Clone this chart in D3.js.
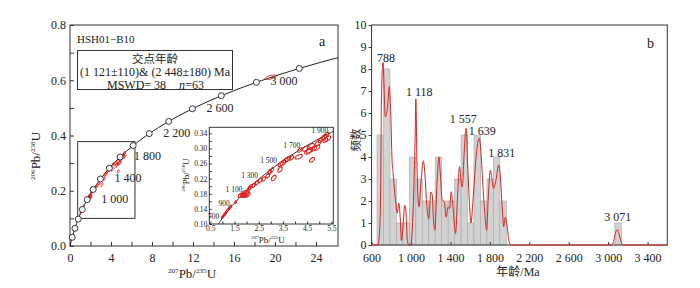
<!DOCTYPE html>
<html>
<head>
<meta charset="utf-8">
<script src="https://cdn.jsdelivr.net/npm/d3@7"></script>
<style>
  body { margin: 0; background: #fff; }
  svg text { font-family: "Liberation Serif", "Times New Roman", "Noto Sans CJK SC", serif; fill: #222; }
  .cjk { font-family: "Liberation Serif", "Noto Sans CJK SC", serif; }
</style>
</head>
<body>
<svg id="chart" width="700" height="288"></svg>
<script>
'use strict';

// concordia, every 100 Ma from 0 to 3400 Ma
const concAge = d3.range(0, 3401, 100);
const concX = [0, 0.1035, 0.2177, 0.3437, 0.4828, 0.6363, 0.8056, 0.9925, 1.1987, 1.4263, 1.6774,
  1.9545, 2.2603, 2.5978, 2.9701, 3.3810, 3.8344, 4.3348, 4.8869, 5.4962, 6.1686, 6.9105, 7.7292,
  8.6326, 9.6296, 10.7297, 11.9437, 13.2833, 14.7616, 16.3929, 18.1930, 20.1795, 22.3715, 24.7903, 27.4595];
const concY = [0, 0.0156, 0.0315, 0.0476, 0.0640, 0.0807, 0.0975, 0.1147, 0.1321, 0.1498, 0.1678,
  0.1861, 0.2046, 0.2234, 0.2426, 0.2620, 0.2817, 0.3018, 0.3221, 0.3428, 0.3637, 0.3851, 0.4068,
  0.4288, 0.4511, 0.4737, 0.4968, 0.5202, 0.5440, 0.5681, 0.5926, 0.6175, 0.6428, 0.6684, 0.6945];
const mainLabelAges = [1000, 1400, 1800, 2200, 2600, 3000];
const insetLabelAges = [700, 900, 1100, 1300, 1500, 1700, 1900];

// analysis spots: 207Pb/235U, 206Pb/238U, half-width x, half-height y
const spots = [
  [1.00, 0.118, 0.04, 0.0035], [1.05, 0.122, 0.04, 0.0035], [1.10, 0.126, 0.05, 0.004],
  [1.15, 0.131, 0.04, 0.004], [1.22, 0.137, 0.05, 0.004], [1.28, 0.142, 0.04, 0.004],
  [1.34, 0.146, 0.04, 0.004], [1.55, 0.158, 0.04, 0.004],
  [1.75, 0.176, 0.10, 0.006], [1.85, 0.178, 0.12, 0.007], [1.92, 0.176, 0.10, 0.006],
  [1.98, 0.179, 0.12, 0.007], [2.05, 0.177, 0.10, 0.006], [1.88, 0.182, 0.08, 0.006],
  [2.02, 0.186, 0.08, 0.006], [2.10, 0.193, 0.08, 0.006], [2.15, 0.198, 0.07, 0.006],
  [2.30, 0.203, 0.08, 0.006], [2.42, 0.209, 0.09, 0.006], [2.55, 0.215, 0.09, 0.006],
  [2.70, 0.219, 0.08, 0.006], [2.88, 0.228, 0.08, 0.006], [2.95, 0.238, 0.07, 0.007],
  [3.05, 0.243, 0.06, 0.007], [3.12, 0.222, 0.10, 0.007], [3.38, 0.244, 0.09, 0.007],
  [3.40, 0.258, 0.10, 0.006], [3.50, 0.262, 0.12, 0.007], [3.60, 0.268, 0.10, 0.006],
  [3.70, 0.272, 0.12, 0.007], [3.85, 0.275, 0.10, 0.006], [4.15, 0.278, 0.15, 0.006],
  [4.20, 0.296, 0.10, 0.006], [4.45, 0.300, 0.14, 0.007], [4.55, 0.292, 0.15, 0.007],
  [4.65, 0.305, 0.15, 0.008], [4.60, 0.295, 0.12, 0.007], [4.78, 0.300, 0.12, 0.007],
  [4.70, 0.270, 0.10, 0.006], [4.95, 0.314, 0.12, 0.007], [4.90, 0.302, 0.12, 0.007],
  [5.05, 0.322, 0.10, 0.007], [5.20, 0.330, 0.12, 0.007], [5.30, 0.336, 0.10, 0.007],
  [5.35, 0.326, 0.12, 0.007], [5.25, 0.322, 0.10, 0.006],
  [19.6, 0.611, 0.55, 0.008]
];

// histogram (Ma)
const binStart = [655, 721, 786, 852, 917, 983, 1049, 1114, 1180, 1245, 1311, 1377, 1442, 1508,
  1573, 1639, 1705, 1770, 1836, 1901, 3068];
const binCount = [5, 8, 3, 1, 1, 4, 3, 2, 2, 4, 2, 2, 3, 5, 1, 5, 2, 3, 4, 2, 1];
const binWidth = 65.6;

// probability density curve (scaled to counts)
const kdeAge = [600, 665, 682, 693, 699, 716, 739, 760, 780, 794, 808, 818, 841, 861, 876, 892, 902,
  916, 937, 947, 963, 977, 998, 1014, 1031, 1042, 1049, 1059, 1069, 1082, 1100, 1126, 1140, 1161,
  1181, 1201, 1215, 1228, 1242, 1262, 1283, 1299, 1316, 1337, 1357, 1374, 1391, 1408, 1425, 1452,
  1472, 1492, 1506, 1520, 1537, 1553, 1560, 1574, 1591, 1608, 1629, 1652, 1676, 1693, 1710, 1730,
  1751, 1767, 1784, 1805, 1822, 1838, 1862, 1889, 1906, 1927, 1940, 1957, 1974, 1995, 2015,
  3040, 3060, 3078, 3093, 3108, 3128, 3152, 3600];
const kdeValue = [0, 0, 0.7, 2.95, 6.4, 8.3, 5.83, 6.2, 7.2, 6.0, 3.8, 3.27, 2.1, 1.45, 1.9, 1.1, 0.2,
  0.7, 1.8, 1.6, 0.2, 0, 0, 0.83, 2.95, 4.9, 6.64, 4.0, 2.2, 1.74, 2.8, 3.83, 3.26, 1.74,
  1.2, 2.4, 2.27, 1.14, 0.68, 2.65, 4.0, 3.1, 2.05, 1.97, 1.26, 1.71, 1.66, 2.42, 1.74, 0.53,
  2.2, 3.56, 2.95, 2.65, 4.0, 5.15, 5.3, 3.7, 2.05, 1.0, 2.05, 3.56, 4.62, 4.85, 4.17, 2.65,
  1.29, 0.68, 2.2, 3.4, 2.95, 2.58, 2.95, 3.64, 3.1, 1.6, 0.83, 1.26, 0.9, 0.15, 0,
  0, 0.25, 0.6, 0.7, 0.55, 0.2, 0, 0];

const peakLabels = ['788', '1 118', '1 557', '1 639', '1 831', '3 071'];
const peakLabelAge = [746, 1084, 1530, 1723, 1920, 3097];
const peakLabelCount = [8.34, 6.77, 5.55, 5.0, 3.98, 1.07];

const svg = d3.select('#chart');
const ink = '#333';
const red = '#d8231c';

function fmtThousands(d) {
  return d >= 1000 ? Math.floor(d / 1000) + ' ' + String(d % 1000).padStart(3, '0') : String(d);
}

function isotopeText(text, parts, size) {
  parts.forEach(function (p) {
    text.append('tspan').attr('font-size', size * 0.55).attr('dy', -size * 0.4).text(p[0]);
    text.append('tspan').attr('font-size', size).attr('dy', size * 0.4).text(p[1]);
  });
}

function styleAxis(g) {
  g.select('.domain').remove();
  g.selectAll('.tick line').attr('stroke', ink);
  g.selectAll('.tick text').attr('fill', '#222');
}

function ellipsePath(d, xs, ys) {
  const rho = 0.55;
  const pts = d3.range(0, 41).map(function (i) {
    const t = i / 40 * 2 * Math.PI;
    return [xs(d[0] + d[2] * Math.cos(t)),
      ys(d[1] + d[3] * (rho * Math.cos(t) + Math.sqrt(1 - rho * rho) * Math.sin(t)))];
  });
  return d3.line().curve(d3.curveLinearClosed)(pts);
}

const conc = concAge.map(function (a, i) { return {age: a, x: concX[i], y: concY[i]}; });

// ---------- panel a ----------
const xA = d3.scaleLinear().domain([0, 26.15]).range([70, 338]);
const yA = d3.scaleLinear().domain([0, 0.8]).range([246, 25]);

svg.append('clipPath').attr('id', 'clipA')
  .append('rect').attr('x', 70).attr('y', 25).attr('width', 268).attr('height', 221);

svg.append('g').attr('transform', 'translate(0,246)')
  .call(d3.axisBottom(xA).tickValues(d3.range(0, 26, 2)).tickSizeInner(-4).tickSizeOuter(0)
    .tickPadding(7).tickFormat(function (d) { return d % 4 === 0 ? d : ''; }))
  .call(styleAxis)
  .selectAll('text').attr('font-size', 12);

svg.append('g').attr('transform', 'translate(70,0)')
  .call(d3.axisLeft(yA).tickValues(d3.range(0, 0.81, 0.1)).tickSizeInner(-4).tickSizeOuter(0)
    .tickPadding(4).tickFormat(function (d) { return Math.round(d * 10) % 2 === 0 ? d3.format('.1f')(d) : ''; }))
  .call(styleAxis)
  .selectAll('text').attr('font-size', 12);

svg.append('rect').attr('x', 70).attr('y', 25).attr('width', 268).attr('height', 221)
  .attr('fill', 'none').attr('stroke', ink);

const xTitleA = svg.append('text').attr('x', 192).attr('y', 278).attr('text-anchor', 'middle');
isotopeText(xTitleA, [['207', 'Pb/'], ['235', 'U']], 13);
const yTitleA = svg.append('text').attr('transform', 'translate(40,156) rotate(-90)').attr('text-anchor', 'middle');
isotopeText(yTitleA, [['206', 'Pb/'], ['238', 'U']], 13);

// zoom box
svg.append('rect')
  .attr('x', xA(0.75)).attr('y', yA(0.378))
  .attr('width', xA(6.34) - xA(0.75)).attr('height', yA(0.10) - yA(0.378))
  .attr('fill', 'none').attr('stroke', ink);

// concordia line
svg.append('path').datum(conc)
  .attr('clip-path', 'url(#clipA)')
  .attr('d', d3.line().x(function (d) { return xA(d.x); }).y(function (d) { return yA(d.y); }).curve(d3.curveMonotoneX))
  .attr('fill', 'none').attr('stroke', '#222').attr('stroke-width', 1);

// spots in main panel
svg.append('g').selectAll('path').data(spots).join('path')
  .attr('d', function (d) { return ellipsePath(d, xA, yA); })
  .attr('fill', 'none').attr('stroke', red).attr('stroke-width', 0.9);

// age markers
const marks = conc.filter(function (d) { return d.age > 0 && d.age <= 3200 && d.age % 200 === 0; });
svg.append('g').selectAll('circle').data(marks).join('circle')
  .attr('cx', function (d) { return xA(d.x); }).attr('cy', function (d) { return yA(d.y); })
  .attr('r', 3).attr('fill', '#fff').attr('stroke', '#222').attr('stroke-width', 0.9);

svg.append('g').selectAll('text').data(conc.filter(function (d) { return mainLabelAges.includes(d.age); })).join('text')
  .attr('x', function (d) { return xA(d.x) + 14; })
  .attr('y', function (d) { return yA(d.y) + 3; })
  .attr('font-size', 12)
  .text(function (d) { return fmtThousands(d.age); });

svg.append('text').attr('x', 77).attr('y', 43).attr('font-size', 11).text('HSH01\u2212B10');
svg.append('text').attr('x', 319).attr('y', 46).attr('font-size', 14).text('a');

// legend box
svg.append('rect').attr('x', 77.5).attr('y', 50.5).attr('width', 155).attr('height', 39)
  .attr('fill', '#fff').attr('stroke', ink);
svg.append('text').attr('class', 'cjk').attr('x', 155).attr('y', 62.5).attr('text-anchor', 'middle')
  .attr('font-size', 11.5).text('交点年龄');
svg.append('text').attr('x', 155).attr('y', 75.5).attr('text-anchor', 'middle')
  .attr('font-size', 12).text('(1 121\u00b1110)& (2 448\u00b1180) Ma');
const mswd = svg.append('text').attr('x', 107).attr('y', 88.5).attr('font-size', 12);
mswd.append('tspan').text('MSWD= 38');
mswd.append('tspan').attr('dx', 13).attr('font-style', 'italic').text('n');
mswd.append('tspan').text('=63');

// ---------- inset ----------
const xI = d3.scaleLinear().domain([0.46, 5.58]).range([209.3, 333.3]);
const yI = d3.scaleLinear().domain([0.10, 0.356]).range([224, 127.3]);

svg.append('rect').attr('x', 209.3).attr('y', 127.3).attr('width', 124).attr('height', 96.7)
  .attr('fill', '#fff').attr('stroke', 'none');
svg.append('clipPath').attr('id', 'clipI')
  .append('rect').attr('x', 209.3).attr('y', 127.3).attr('width', 124).attr('height', 96.7);

svg.append('g').attr('transform', 'translate(0,224)')
  .call(d3.axisBottom(xI).tickValues(d3.range(0.5, 5.6, 0.5)).tickSizeInner(-2.5).tickSizeOuter(0)
    .tickPadding(2).tickFormat(function (d) { return Math.round(d * 10) % 10 === 5 ? d3.format('.1f')(d) : ''; }))
  .call(styleAxis)
  .selectAll('text').attr('font-size', 7.5);

svg.append('g').attr('transform', 'translate(209.3,0)')
  .call(d3.axisLeft(yI).tickValues(d3.range(0.10, 0.35, 0.02)).tickSizeInner(-2.5).tickSizeOuter(0)
    .tickPadding(2).tickFormat(function (d) { return Math.round(d * 100) % 4 === 2 ? d3.format('.2f')(d) : ''; }))
  .call(styleAxis)
  .selectAll('text').attr('font-size', 7.5);

svg.append('path').datum(conc)
  .attr('clip-path', 'url(#clipI)')
  .attr('d', d3.line().x(function (d) { return xI(d.x); }).y(function (d) { return yI(d.y); }).curve(d3.curveMonotoneX))
  .attr('fill', 'none').attr('stroke', '#222').attr('stroke-width', 0.9);

svg.append('g').attr('clip-path', 'url(#clipI)').selectAll('path').data(spots).join('path')
  .attr('d', function (d) { return ellipsePath(d, xI, yI); })
  .attr('fill', 'none').attr('stroke', red).attr('stroke-width', 1.1);

svg.append('g').selectAll('text').data(conc.filter(function (d) { return insetLabelAges.includes(d.age); })).join('text')
  .attr('x', function (d) { return xI(d.x) - 3; })
  .attr('y', function (d) { return yI(d.y) + 0.5; })
  .attr('text-anchor', 'end')
  .attr('font-size', 7.5)
  .text(function (d) { return fmtThousands(d.age); });

svg.append('rect').attr('x', 209.3).attr('y', 127.3).attr('width', 124).attr('height', 96.7)
  .attr('fill', 'none').attr('stroke', ink);

const xTitleI = svg.append('text').attr('x', 268).attr('y', 243).attr('text-anchor', 'middle');
isotopeText(xTitleI, [['207', 'Pb/'], ['235', 'U']], 9);
const yTitleI = svg.append('text').attr('transform', 'translate(189,175) rotate(-90)').attr('text-anchor', 'middle');
isotopeText(yTitleI, [['206', 'Pb/'], ['238', 'U']], 9);

// ---------- panel b ----------
const xB = d3.scaleLinear().domain([600, 3600]).range([371.6, 667.3]);
const yB = d3.scaleLinear().domain([0, 10]).range([245, 25]);

svg.append('g').selectAll('rect').data(binStart).join('rect')
  .attr('x', function (d) { return xB(d); })
  .attr('width', function (d) { return xB(d + binWidth) - xB(d); })
  .attr('y', function (d, i) { return yB(binCount[i]); })
  .attr('height', function (d, i) { return yB(0) - yB(binCount[i]); })
  .attr('fill', '#d2d2d2').attr('stroke', '#a8a8a8').attr('stroke-width', 0.6);

svg.append('g').attr('transform', 'translate(0,245)')
  .call(d3.axisBottom(xB).tickValues(d3.range(600, 3401, 400)).tickSizeInner(-3).tickSizeOuter(0)
    .tickPadding(8).tickFormat(fmtThousands))
  .call(styleAxis)
  .selectAll('text').attr('font-size', 12);

svg.append('g').attr('transform', 'translate(371.6,0)')
  .call(d3.axisLeft(yB).tickValues(d3.range(0, 11, 1)).tickSizeInner(3).tickSizeOuter(0)
    .tickPadding(2).tickFormat(d3.format('d')))
  .call(styleAxis)
  .selectAll('text').attr('font-size', 12).attr('dy', '0.28em');

svg.append('rect').attr('x', 371.6).attr('y', 25).attr('width', 295.7).attr('height', 220)
  .attr('fill', 'none').attr('stroke', ink);

svg.append('path').datum(kdeAge.map(function (a, i) { return [a, kdeValue[i]]; }))
  .attr('d', d3.line().x(function (d) { return xB(d[0]); }).y(function (d) { return yB(d[1]); }).curve(d3.curveMonotoneX))
  .attr('fill', 'none').attr('stroke', red).attr('stroke-width', 1);

svg.append('g').selectAll('text').data(peakLabels).join('text')
  .attr('x', function (d, i) { return xB(peakLabelAge[i]); })
  .attr('y', function (d, i) { return yB(peakLabelCount[i]); })
  .attr('text-anchor', 'middle').attr('font-size', 12)
  .text(function (d) { return d; });

svg.append('text').attr('x', 647).attr('y', 48).attr('font-size', 14).text('b');

svg.append('text').attr('class', 'cjk').attr('transform', 'translate(360,140) rotate(-90)')
  .attr('text-anchor', 'middle').attr('font-size', 11.5).text('频数');
svg.append('text').attr('class', 'cjk').attr('x', 518).attr('y', 276)
  .attr('text-anchor', 'middle').attr('font-size', 12).text('年龄/Ma');
</script>
</body>
</html>
